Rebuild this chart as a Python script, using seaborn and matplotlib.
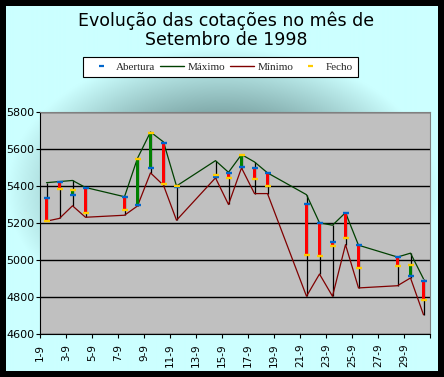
import numpy as np
import pandas as pd
import matplotlib
matplotlib.use("Agg")
import matplotlib.pyplot as plt
import seaborn as sns
from matplotlib.lines import Line2D
from matplotlib import transforms

# ---- data (September 1998, trading days) ----
days = [1, 2, 3, 4, 7, 8, 9, 10, 11, 14, 15, 16, 17, 18, 21, 22, 23, 24, 25, 28, 29, 30]
abertura = [5336, 5420, 5354, 5390, 5341, 5298, 5498, 5633, 5396, 5449, 5471, 5503,
            5498, 5471, 5303, 5201, 5099, 5255, 5079, 5014, 4912, 4885]
maximo = [5418, 5424, 5430, 5392, 5342, 5550, 5692, 5638, 5400, 5537, 5474, 5570,
          5530, 5471, 5353, 5201, 5188, 5256, 5080, 5016, 5037, 4898]
minimo = [5210, 5225, 5293, 5231, 5242, 5292, 5471, 5404, 5215, 5444, 5300, 5498,
          5359, 5359, 4804, 4924, 4804, 5083, 4849, 4861, 4903, 4704]
fecho = [5212, 5383, 5381, 5254, 5271, 5548, 5687, 5409, 5400, 5458, 5444, 5566,
         5436, 5400, 5025, 5020, 5078, 5121, 4955, 4966, 4971, 4782]
tick_days = list(range(1, 30, 2))
tick_labels = [f"{d}-9" for d in tick_days]
y_ticks = list(range(4600, 5801, 200))
series_names = ["Abertura", "Máximo", "Mínimo", "Fecho"]
title = "Evolução das cotações no mês de\nSetembro de 1998"

df = pd.DataFrame({"dia": days, "abertura": abertura, "maximo": maximo,
                   "minimo": minimo, "fecho": fecho})

sns.set_theme(style="white")
plt.rcParams['font.family'] = ['DejaVu Sans']

W, H = 444, 377
fig = plt.figure(figsize=(W / 100, H / 100), dpi=100, facecolor='black')

# ---- background with radial gradient ----
bg = fig.add_axes([6 / W, 6 / H, 431 / W, 365 / H])
xs = np.arange(6, 437) + 0.5
ys = np.arange(6, 371) + 0.5
X, Y = np.meshgrid(xs, ys)
r = np.sqrt(((X - 222) / 215) ** 2 + ((Y - 190) / 142) ** 2)
t = np.clip(r, 0, 1)
light = np.array([204, 255, 255]) / 255
dark = np.array([40, 70, 70]) / 255
img = light[None, None, :] - (light - dark)[None, None, :] * (1 - t)[..., None]
bg.imshow(img, extent=[0, 1, 0, 1], aspect='auto', origin='upper')
bg.axis('off')

# ---- main axes ----
ax = fig.add_axes([40 / W, 1 - 334 / H, 390 / W, 222 / H])
ax.set_facecolor('#C0C0C0')
ax.set_xlim(0.5, 30.5)
ax.set_ylim(4600, 5800)
ax.set_yticks(y_ticks)
ax.yaxis.grid(True, color='black', lw=1.0)
ax.xaxis.grid(False)
ax.set_axisbelow(True)

# high-low lines
ax.vlines(df["dia"], df["minimo"], df["maximo"], color='black', lw=0.9, zorder=2)

# max / min lines
sns.lineplot(data=df, x="dia", y="maximo", color='#004000', lw=0.9, ax=ax,
             zorder=3, sort=False, estimator=None)
sns.lineplot(data=df, x="dia", y="minimo", color='#800000', lw=0.9, ax=ax,
             zorder=3, sort=False, estimator=None)

# up-down bars
up = df["fecho"] >= df["abertura"]
ax.bar(df["dia"], df["fecho"] - df["abertura"], bottom=df["abertura"], width=0.28,
       color=np.where(up, '#008000', '#FF0000'), lw=0, zorder=4)

# open / close markers
ax.plot(df["dia"], df["abertura"], ls='none', marker='_', ms=4.0, mew=1.7,
        color='#0066CC', zorder=5)
ax.plot(df["dia"], df["fecho"], ls='none', marker='_', ms=4.0, mew=1.7,
        color='#FFCC00', zorder=5)

ax.set_xlabel("")
ax.set_ylabel("")

# spines
for side in ["left", "bottom"]:
    ax.spines[side].set_color('black')
    ax.spines[side].set_linewidth(0.8)
for side in ["top", "right"]:
    ax.spines[side].set_color('#808080')
    ax.spines[side].set_linewidth(0.8)
    ax.spines[side].set_visible(True)

# ticks
ax.set_xticks([d - 0.5 for d in tick_days] + [30.5])
ax.set_xticklabels(tick_labels + [''], rotation=90, fontsize=7.5, color='black')
offset = transforms.ScaledTranslation(5 / 100, 0, fig.dpi_scale_trans)
for lab in ax.get_xticklabels():
    lab.set_transform(lab.get_transform() + offset)
ax.set_yticklabels([str(v) for v in y_ticks], fontsize=8, color='black')
ax.tick_params(axis='x', bottom=True, direction='out', length=3, width=0.8,
               color='black', pad=4)
ax.tick_params(axis='y', left=True, direction='out', length=3, width=0.8,
               color='black', pad=1)

# legend
handles = [Line2D([], [], ls='none', marker='_', ms=3.6, mew=1.6, color='#0066CC'),
           Line2D([], [], color='#004000', lw=1),
           Line2D([], [], color='#800000', lw=1),
           Line2D([], [], ls='none', marker='_', ms=3.6, mew=1.6, color='#FFCC00')]
leg = fig.legend(handles, series_names, loc='center',
                 bbox_to_anchor=(220.5 / W, 1 - 66.7 / H), ncol=4, frameon=True,
                 fancybox=False, edgecolor='black', facecolor='white', framealpha=1,
                 prop={'family': 'Liberation Serif', 'size': 8},
                 handlelength=2.2, handletextpad=0.3, columnspacing=0.4,
                 borderpad=0.45, borderaxespad=0)
leg.get_frame().set_linewidth(0.8)

# title
fig.text(226 / W, 1 - 11 / H, title, ha='center', va='top', fontsize=12.5,
         linespacing=1.12, color='black')

fig.savefig("out.png", dpi=100, facecolor=fig.get_facecolor())
